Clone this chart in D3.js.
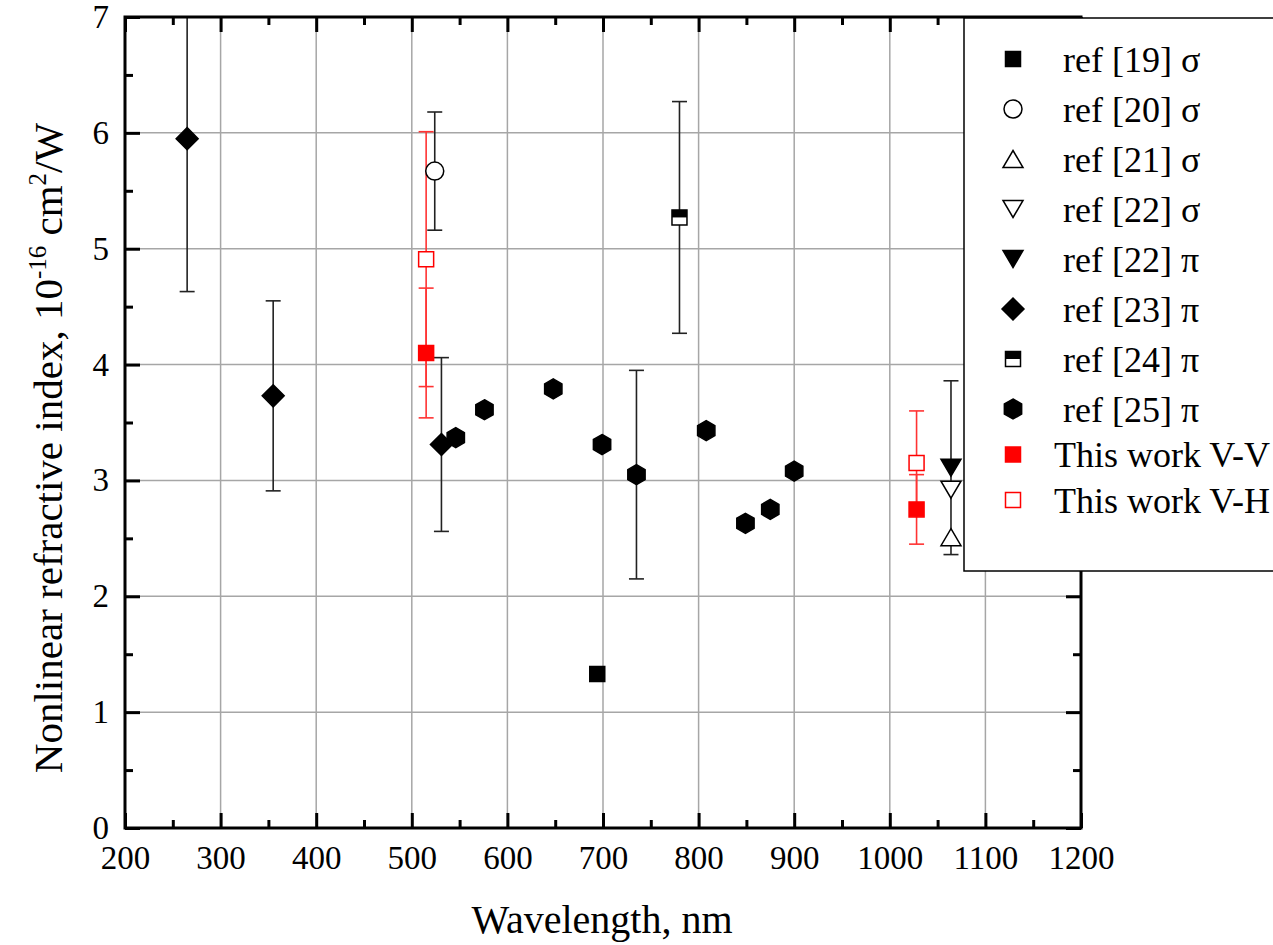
<!DOCTYPE html>
<html>
<head>
<meta charset="utf-8">
<script src="https://cdn.jsdelivr.net/npm/d3@7"></script>
<style>
  body { margin: 0; background: #fff; }
  text { font-family: "Liberation Serif", "Times New Roman", serif; fill: #000; }
</style>
</head>
<body>
<svg id="chart"></svg>
<script>
'use strict';

// data: wavelength (nm), n2 (1e-16 cm^2/W), error (+/-)
var ref19_x = [694];
var ref19_y = [1.33];
var ref20_x = [524];
var ref20_y = [5.67];
var ref20_err = [0.51];
var ref21_x = [1064];
var ref21_y = [2.51];
var ref22s_x = [1064];
var ref22s_y = [2.92];
var ref22p_x = [1064];
var ref22p_y = [3.11];
var ref22p_err = [0.75];
var ref23_x = [265, 355, 531];
var ref23_y = [5.95, 3.73, 3.31];
var ref23_err = [1.32, 0.82, 0.75];
var ref24_x = [780];
var ref24_y = [5.27];
var ref24_err = [1.0];
var ref25_x = [546, 576, 648, 699, 735, 808, 849, 875, 900];
var ref25_y = [3.37, 3.61, 3.79, 3.31, 3.05, 3.43, 2.63, 2.75, 3.08];
var ref25_err = [0, 0, 0, 0, 0.90, 0, 0, 0, 0];
var vv_x = [515, 1028];
var vv_y = [4.10, 2.75];
var vv_err = [0.56, 0.30];
var vh_x = [515, 1028];
var vh_y = [4.91, 3.15];
var vh_err = [1.10, 0.45];

var x_ticks = [200, 300, 400, 500, 600, 700, 800, 900, 1000, 1100, 1200];
var y_ticks = [0, 1, 2, 3, 4, 5, 6, 7];

var legend_labels = [' ref [19] σ', ' ref [20] σ', ' ref [21] σ', ' ref [22] σ', ' ref [22] π',
    ' ref [23] π', ' ref [24] π', ' ref [25] π', 'This work V-V', 'This work V-H'];

function zip(xs, ys, es) {
    return xs.map(function (v, i) { return { x: v, y: ys[i], e: es ? es[i] : 0 }; });
}

var series = [
    { label: legend_labels[0], shape: 'square', fill: '#000', stroke: '#000', pts: zip(ref19_x, ref19_y) },
    { label: legend_labels[1], shape: 'circle', fill: '#fff', stroke: '#000', pts: zip(ref20_x, ref20_y, ref20_err) },
    { label: legend_labels[2], shape: 'up', fill: '#fff', stroke: '#000', pts: zip(ref21_x, ref21_y) },
    { label: legend_labels[3], shape: 'down', fill: '#fff', stroke: '#000', pts: zip(ref22s_x, ref22s_y) },
    { label: legend_labels[4], shape: 'down', fill: '#000', stroke: '#000', pts: zip(ref22p_x, ref22p_y, ref22p_err) },
    { label: legend_labels[5], shape: 'diamond', fill: '#000', stroke: '#000', pts: zip(ref23_x, ref23_y, ref23_err) },
    { label: legend_labels[6], shape: 'half', fill: '#fff', stroke: '#000', pts: zip(ref24_x, ref24_y, ref24_err) },
    { label: legend_labels[7], shape: 'hex', fill: '#000', stroke: '#000', pts: zip(ref25_x, ref25_y, ref25_err) },
    { label: legend_labels[8], shape: 'square', fill: '#ff0000', stroke: '#ff0000', pts: zip(vv_x, vv_y, vv_err) },
    { label: legend_labels[9], shape: 'square', fill: '#fff', stroke: '#ff0000', pts: zip(vh_x, vh_y, vh_err) }
];

var width = 1273, height = 945;
var plot_left = 125, plot_right = 1081, plot_top = 17, plot_bottom = 828;

var svg = d3.select('#chart').attr('width', width).attr('height', height);

var x = d3.scaleLinear().domain([200, 1200]).range([plot_left, plot_right]);
var y = d3.scaleLinear().domain([0, 7]).range([plot_bottom, plot_top]);

var x_minor = d3.range(250, 1200, 100);
var y_minor = d3.range(0.5, 7, 1);

// grid
var grid = svg.append('g').attr('stroke', '#a6a6a6').attr('stroke-width', 1.5);
grid.selectAll('.gx').data(x_ticks.slice(1, -1)).enter().append('line')
    .attr('x1', function (d) { return x(d); }).attr('x2', function (d) { return x(d); })
    .attr('y1', plot_top).attr('y2', plot_bottom);
grid.selectAll('.gy').data(y_ticks.slice(1, -1)).enter().append('line')
    .attr('y1', function (d) { return y(d); }).attr('y2', function (d) { return y(d); })
    .attr('x1', plot_left).attr('x2', plot_right);

// marker shapes
function shapePath(kind, s) {
    var h;
    switch (kind) {
        case 'circle':
            return d3.symbol(d3.symbolCircle, Math.PI * s * s)();
        case 'up':
            h = s * 0.85;
            return 'M0,' + (-h) + 'L' + s + ',' + h + 'L' + (-s) + ',' + h + 'Z';
        case 'down':
            h = s * 0.85;
            return 'M0,' + h + 'L' + s + ',' + (-h) + 'L' + (-s) + ',' + (-h) + 'Z';
        case 'diamond':
            return 'M0,' + (-s) + 'L' + s + ',0L0,' + s + 'L' + (-s) + ',0Z';
        case 'hex':
            return d3.range(6).map(function (i) {
                var a = i * Math.PI / 3;
                return (i ? 'L' : 'M') + (s * Math.sin(a)).toFixed(2) + ',' + (-s * Math.cos(a)).toFixed(2);
            }).join('') + 'Z';
        default:
            return 'M' + (-s) + ',' + (-s) + 'H' + s + 'V' + s + 'H' + (-s) + 'Z';
    }
}
var sizes = { square: 7.5, half: 7.5, circle: 9, up: 10, down: 10, diamond: 11, hex: 10 };

function drawMarker(g, d) {
    var s = sizes[d.shape];
    g.append('path').attr('d', shapePath(d.shape, s))
        .attr('fill', d.fill).attr('stroke', d.stroke).attr('stroke-width', 1.5);
    if (d.shape === 'half') {
        g.append('rect').attr('x', -s).attr('y', -s).attr('width', 2 * s).attr('height', s).attr('fill', '#000');
    }
}

svg.append('clipPath').attr('id', 'plot-clip').append('rect')
    .attr('x', plot_left).attr('y', plot_top).attr('width', plot_right - plot_left).attr('height', plot_bottom - plot_top);

var plot = svg.append('g').attr('clip-path', 'url(#plot-clip)');

// error bars
series.forEach(function (d) {
    var col = d.stroke === '#ff0000' ? '#ff3333' : '#222';
    var eb = plot.append('g').attr('stroke', col).attr('stroke-width', 1.6).attr('fill', 'none');
    var pts = d.pts.filter(function (p) { return p.e > 0; });
    eb.selectAll('.v').data(pts).enter().append('line')
        .attr('x1', function (p) { return x(p.x); }).attr('x2', function (p) { return x(p.x); })
        .attr('y1', function (p) { return y(p.y + p.e); }).attr('y2', function (p) { return y(p.y - p.e); });
    [1, -1].forEach(function (sgn) {
        eb.selectAll('.c' + sgn).data(pts).enter().append('line')
            .attr('x1', function (p) { return x(p.x) - 7.5; }).attr('x2', function (p) { return x(p.x) + 7.5; })
            .attr('y1', function (p) { return y(p.y + sgn * p.e); }).attr('y2', function (p) { return y(p.y + sgn * p.e); });
    });
});

// markers
series.forEach(function (d) {
    plot.selectAll(null).data(d.pts).enter().append('g')
        .attr('transform', function (p) { return 'translate(' + x(p.x) + ',' + y(p.y) + ')'; })
        .each(function () { drawMarker(d3.select(this), d); });
});

// axes, ticks inside on all four sides
function styleAxis(g) {
    g.select('.domain').remove();
    g.selectAll('.tick line').attr('stroke', '#000').attr('stroke-width', 3);
    g.selectAll('.tick text').style('font-size', '33px').attr('fill', '#000');
}

svg.append('g').attr('transform', 'translate(0,' + plot_bottom + ')')
    .call(d3.axisBottom(x).tickValues(x_ticks).tickSize(-15).tickPadding(18).tickFormat(d3.format('d'))).call(styleAxis);
svg.append('g').attr('transform', 'translate(0,' + plot_bottom + ')')
    .call(d3.axisBottom(x).tickValues(x_minor).tickSize(-8).tickFormat('')).call(styleAxis);
svg.append('g').attr('transform', 'translate(0,' + plot_top + ')')
    .call(d3.axisTop(x).tickValues(x_ticks).tickSize(-15).tickFormat('')).call(styleAxis);
svg.append('g').attr('transform', 'translate(0,' + plot_top + ')')
    .call(d3.axisTop(x).tickValues(x_minor).tickSize(-8).tickFormat('')).call(styleAxis);
svg.append('g').attr('transform', 'translate(' + plot_left + ',0)')
    .call(d3.axisLeft(y).tickValues(y_ticks).tickSize(-15).tickPadding(16).tickFormat(d3.format('d'))).call(styleAxis);
svg.append('g').attr('transform', 'translate(' + plot_left + ',0)')
    .call(d3.axisLeft(y).tickValues(y_minor).tickSize(-8).tickFormat('')).call(styleAxis);
svg.append('g').attr('transform', 'translate(' + plot_right + ',0)')
    .call(d3.axisRight(y).tickValues(y_ticks).tickSize(-15).tickFormat('')).call(styleAxis);
svg.append('g').attr('transform', 'translate(' + plot_right + ',0)')
    .call(d3.axisRight(y).tickValues(y_minor).tickSize(-8).tickFormat('')).call(styleAxis);

svg.append('rect').attr('x', plot_left).attr('y', plot_top)
    .attr('width', plot_right - plot_left).attr('height', plot_bottom - plot_top)
    .attr('fill', 'none').attr('stroke', '#000').attr('stroke-width', 3);

// axis titles
svg.append('text').attr('x', 602).attr('y', 933).attr('text-anchor', 'middle')
    .style('font-size', '40px').text('Wavelength, nm');

var yt = svg.append('text').attr('transform', 'translate(62,448) rotate(-90)')
    .attr('text-anchor', 'middle').style('font-size', '41px');
yt.append('tspan').text('Nonlinear refractive index, 10');
yt.append('tspan').attr('dy', -16).style('font-size', '25px').text('-16');
yt.append('tspan').attr('dy', 16).text(' cm');
yt.append('tspan').attr('dy', -16).style('font-size', '25px').text('2');
yt.append('tspan').attr('dy', 16).text('/W');

// legend
var legend = svg.append('g');
legend.append('rect').attr('x', 964).attr('y', 18).attr('width', 330).attr('height', 553)
    .attr('fill', '#fff').attr('stroke', '#000').attr('stroke-width', 1.5);

function legendY(i) { return i < 8 ? 59 + i * 50 : 409 + (i - 7) * 45.5; }

var items = legend.selectAll('.item').data(series).enter().append('g')
    .attr('transform', function (d, i) { return 'translate(1013,' + legendY(i) + ')'; });
items.each(function (d) { drawMarker(d3.select(this), d); });
items.append('text').attr('x', 41).attr('dy', '0.35em')
    .style('font-size', '36px').style('white-space', 'pre')
    .text(function (d) { return d.label; });
</script>
</body>
</html>
